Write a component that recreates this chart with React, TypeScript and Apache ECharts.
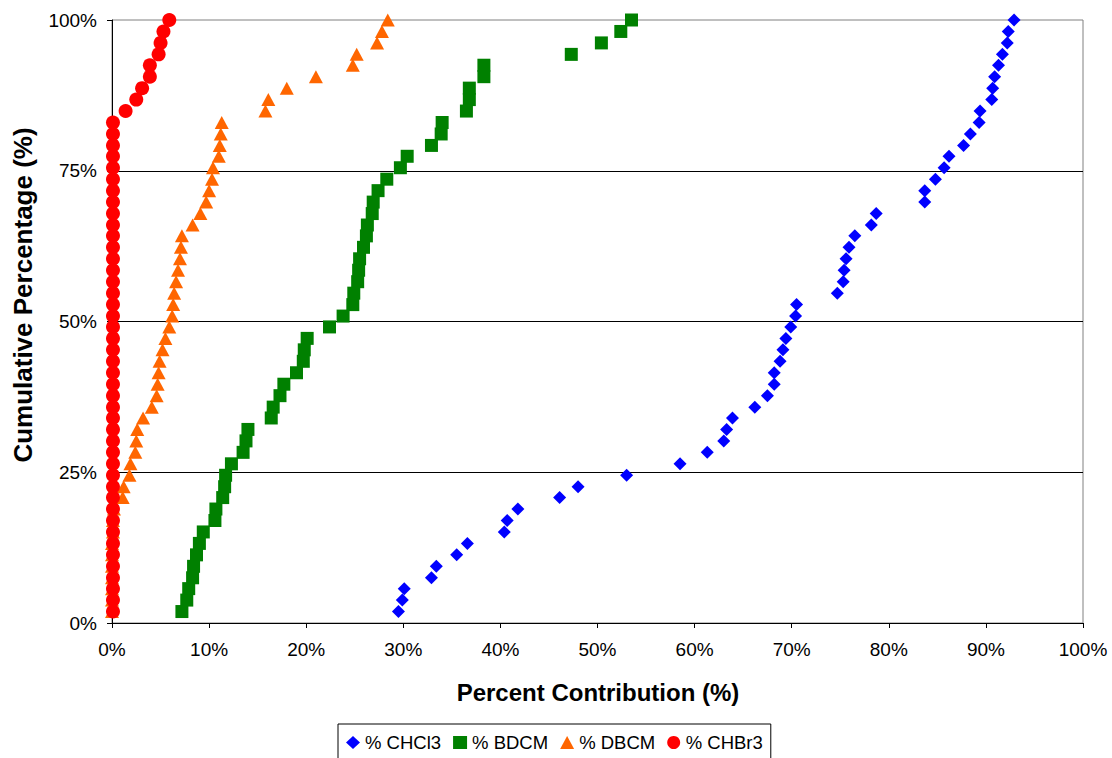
import React, { useEffect, useRef } from "react";
import * as echarts from "echarts";

// Cumulative percentage (rank / 53 samples)
const cumulativePct = [
  1.9, 3.8, 5.7, 7.5, 9.4, 11.3, 13.2, 15.1, 17.0, 18.9,
  20.8, 22.6, 24.5, 26.4, 28.3, 30.2, 32.1, 34.0, 35.8, 37.7,
  39.6, 41.5, 43.4, 45.3, 47.2, 49.1, 50.9, 52.8, 54.7, 56.6,
  58.5, 60.4, 62.3, 64.2, 66.0, 67.9, 69.8, 71.7, 73.6, 75.5,
  77.4, 79.2, 81.1, 83.0, 84.9, 86.8, 88.7, 90.6, 92.5, 94.3,
  96.2, 98.1, 100.0,
];

const chcl3 = [
  29.5, 29.9, 30.1, 32.9, 33.4, 35.5, 36.6, 40.4, 40.7, 41.8,
  46.1, 48.0, 53.0, 58.5, 61.3, 63.0, 63.3, 63.9, 66.2, 67.5,
  68.2, 68.2, 68.8, 69.1, 69.4, 69.9, 70.4, 70.5, 74.7, 75.3,
  75.4, 75.6, 75.9, 76.5, 78.2, 78.7, 83.7, 83.7, 84.8, 85.7,
  86.2, 87.7, 88.4, 89.3, 89.4, 90.6, 90.7, 90.9, 91.3, 91.7,
  92.2, 92.3, 92.9,
];

const bdcm = [
  7.2, 7.7, 7.9, 8.3, 8.4, 8.7, 9.0, 9.4, 10.6, 10.7,
  11.4, 11.6, 11.7, 12.3, 13.5, 13.8, 14.0, 16.4, 16.6, 17.3,
  17.7, 19.0, 19.7, 19.8, 20.1, 22.4, 23.8, 24.8, 24.9, 25.3,
  25.4, 25.5, 25.9, 26.2, 26.3, 26.8, 26.9, 27.4, 28.3, 29.7,
  30.4, 32.9, 33.9, 34.0, 36.5, 36.8, 36.8, 38.3, 38.3, 47.3,
  50.4, 52.4, 53.5,
];

const dbcm = [
  0.0, 0.0, 0.0, 0.0, 0.0, 0.0, 0.0, 0.1, 0.1, 0.2,
  1.1, 1.2, 1.8, 1.9, 2.4, 2.5, 2.6, 3.2, 4.1, 4.6,
  4.7, 4.8, 4.9, 5.2, 5.5, 5.9, 6.2, 6.3, 6.4, 6.6,
  6.8, 7.0, 7.1, 7.2, 8.3, 9.1, 9.7, 10.0, 10.3, 10.4,
  11.0, 11.1, 11.2, 11.3, 15.8, 16.1, 18.0, 21.0, 24.8, 25.2,
  27.3, 27.8, 28.4,
];

const chbr3 = [
  0.1, 0.1, 0.1, 0.1, 0.1, 0.1, 0.1, 0.1, 0.1, 0.1,
  0.1, 0.1, 0.1, 0.1, 0.1, 0.1, 0.1, 0.1, 0.1, 0.1,
  0.1, 0.1, 0.1, 0.1, 0.1, 0.1, 0.1, 0.1, 0.1, 0.1,
  0.1, 0.1, 0.1, 0.1, 0.1, 0.1, 0.1, 0.1, 0.1, 0.1,
  0.1, 0.1, 0.1, 0.1, 1.4, 2.5, 3.1, 3.9, 3.9, 4.8,
  5.0, 5.3, 5.9,
];

const xTicks = { min: 0, max: 100, interval: 10 };
const yTicks = { min: 0, max: 100, interval: 25 };

const FONT = '"Liberation Sans", Arial, sans-serif';

export default function App() {
  const ref = useRef<HTMLDivElement>(null);

  useEffect(() => {
    const chart = echarts.init(ref.current as HTMLDivElement, null, { renderer: "svg" });
    const pair = (xs: number[]) => xs.map((x, i) => [x, cumulativePct[i]]);

    chart.setOption({
      animation: false,
      backgroundColor: "#ffffff",
      grid: {
        left: 112,
        right: 29,
        top: 20,
        bottom: 135,
        show: true,
        borderColor: "#808080",
        borderWidth: 1,
        backgroundColor: "transparent",
      },
      xAxis: {
        type: "value",
        min: xTicks.min,
        max: xTicks.max,
        interval: xTicks.interval,
        axisLine: { show: true, onZero: false, lineStyle: { color: "#000", width: 1 } },
        axisTick: { show: true, length: 5, lineStyle: { color: "#000" } },
        axisLabel: {
          formatter: "{value}%",
          fontSize: 19,
          fontFamily: FONT,
          color: "#000",
          margin: 17,
        },
        splitLine: { show: false },
      },
      yAxis: {
        type: "value",
        min: yTicks.min,
        max: yTicks.max,
        interval: yTicks.interval,
        axisLine: { show: true, onZero: false, lineStyle: { color: "#000", width: 1 } },
        axisTick: { show: true, length: 5, lineStyle: { color: "#000" } },
        axisLabel: {
          formatter: "{value}%",
          fontSize: 19,
          fontFamily: FONT,
          color: "#000",
          margin: 15,
        },
        splitLine: {
          show: true,
          showMinLine: false,
          showMaxLine: false,
          lineStyle: { color: "#000", width: 1 },
        },
      },
      legend: {
        left: 338,
        top: 724,
        orient: "horizontal",
        itemWidth: 14,
        itemHeight: 13,
        itemGap: 12,
        padding: [9, 8, 12, 8],
        borderColor: "#000",
        borderWidth: 1,
        backgroundColor: "#fff",
        textStyle: { fontSize: 18.5, fontFamily: FONT, color: "#000" },
        data: ["% CHCl3", "% BDCM", "% DBCM", "% CHBr3"],
      },
      graphic: [
        {
          type: "text",
          x: 598,
          y: 692,
          style: {
            text: "Percent Contribution (%)",
            font: 'bold 24px "Liberation Sans", Arial, sans-serif',
            fill: "#000",
            align: "center",
            verticalAlign: "middle",
          },
        },
        {
          type: "text",
          x: 23,
          y: 295,
          rotation: Math.PI / 2,
          style: {
            text: "Cumulative Percentage (%)",
            font: 'bold 26px "Liberation Sans", Arial, sans-serif',
            fill: "#000",
            align: "center",
            verticalAlign: "middle",
          },
        },
      ],
      series: [
        {
          name: "% CHCl3",
          type: "scatter",
          symbol: "diamond",
          symbolSize: [13, 13],
          itemStyle: { color: "#0000FF", opacity: 1 },
          data: pair(chcl3),
        },
        {
          name: "% BDCM",
          type: "scatter",
          symbol: "rect",
          symbolSize: [13, 13],
          itemStyle: { color: "#008000", opacity: 1 },
          data: pair(bdcm),
        },
        {
          name: "% DBCM",
          type: "scatter",
          symbol: "triangle",
          symbolSize: [14, 13],
          itemStyle: { color: "#FF6600", opacity: 1 },
          data: pair(dbcm),
        },
        {
          name: "% CHBr3",
          type: "scatter",
          symbol: "circle",
          symbolSize: 14,
          itemStyle: { color: "#FF0000", opacity: 1 },
          data: pair(chbr3),
        },
      ],
    });

    return () => chart.dispose();
  }, []);

  return (
    <div
      ref={ref}
      style={{ position: "fixed", left: 0, top: 0, width: 1112, height: 758, background: "#fff" }}
    />
  );
}
